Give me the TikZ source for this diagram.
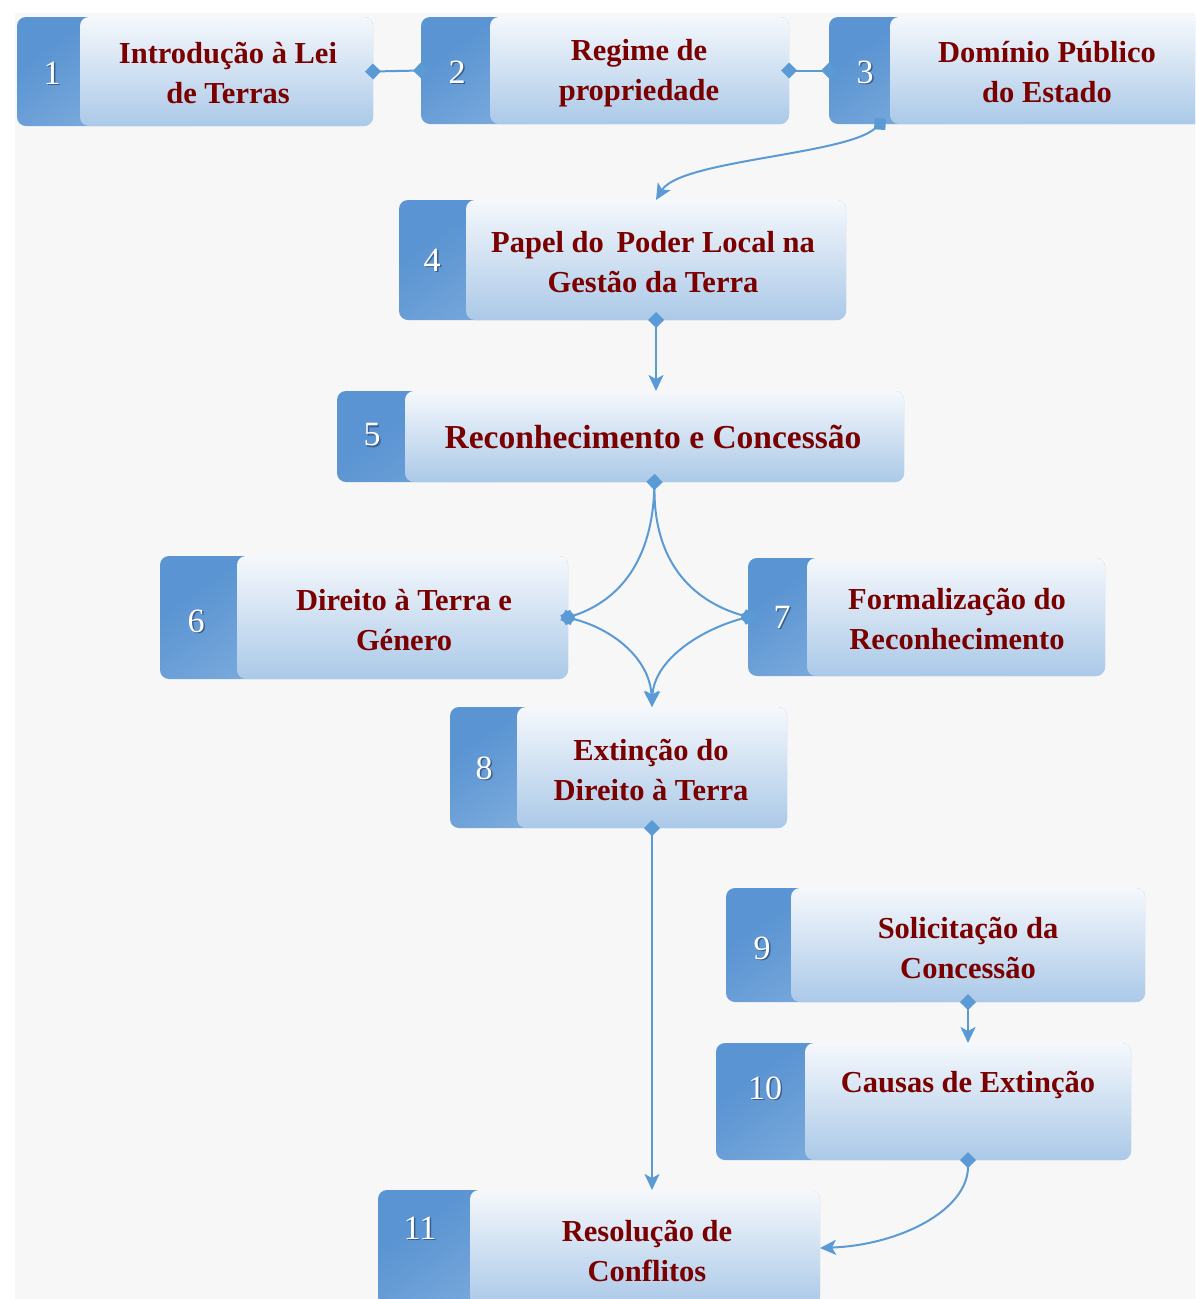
\documentclass[tikz,border=0pt]{standalone}
\usepackage{fontspec}
\setmainfont{Liberation Serif}
\usetikzlibrary{arrows.meta,calc}
\definecolor{bggray}{HTML}{F7F7F7}
\definecolor{tabA}{HTML}{5A94D2}
\definecolor{tabB}{HTML}{A6C7E9}
\definecolor{panA}{HTML}{F5F8FC}
\definecolor{panB}{HTML}{ABC9E8}
\definecolor{lblred}{HTML}{7A0000}
\definecolor{linkblue}{HTML}{5B9BD5}
\definecolor{numshade}{HTML}{3D5E8C}
\tikzset{
  tab/.style={rounded corners=9, top color=tabA, bottom color=tabB, shading angle=35, draw=none, inner sep=0, outer sep=0},
  panel/.style={rounded corners=9, top color=panA, bottom color=panB, draw=none, inner sep=0, outer sep=0},
  lbl/.style={font=\bfseries\fontsize{30.5}{40}\selectfont, text=lblred, align=center, inner sep=0},
  lblbig/.style={lbl, font=\bfseries\fontsize{33.5}{40}\selectfont},
  num/.style={font=\fontsize{34}{34}\selectfont, text=white, inner sep=0},
  numsh/.style={font=\fontsize{34}{34}\selectfont, text=numshade, inner sep=0},
  link/.style={draw=linkblue, line width=2},
  dia/.style={{Diamond[length=16,width=16]}-{Diamond[length=16,width=16]}, shorten <=-8, shorten >=-8},
  diarr/.style={{Diamond[length=16,width=16]}-{Stealth[length=16,width=15,inset=4]}, shorten <=-8},
}
\newcommand\mkbox[6]{%
  \node[tab, anchor=north west, minimum width={#4-#2}, minimum height={#5-#3}] (#1) at (#2,#3) {};
  \node[panel, anchor=north west, minimum width={#4-#6}, minimum height={#5-#3}] (#1p) at (#6,#3) {};
}
\newcommand\mknum[4]{%
  \node[numsh] (#1s) at ({#2+1.5},{#3+1.5}) {#4};
  \node[num] (#1n) at (#2,#3) {#4};
}
\begin{document}
\begin{tikzpicture}[x=1pt,y=-1pt]
\useasboundingbox (0,0) rectangle (1195,1299);
\clip (0,0) rectangle (1195,1299);
\fill[white] (0,0) rectangle (1195,1299);
\fill[bggray] (15,13) rectangle (1195,1299);

\mkbox{b1}{17}{17}{373}{126}{80}
\mkbox{b2}{421}{17}{789}{124}{490}
\mkbox{b3}{829}{17}{1215}{124}{890}
\mkbox{b4}{399}{200}{846}{320}{466}
\mkbox{b5}{337}{391}{904}{482}{405}
\mkbox{b6}{160}{556}{568}{679}{237}
\mkbox{b7}{748}{558}{1105}{676}{807}
\mkbox{b8}{450}{707}{787}{828}{517}
\mkbox{b9}{726}{888}{1145}{1002}{791}
\mkbox{b10}{716}{1043}{1131}{1160}{805}
\mkbox{b11}{378}{1190}{820}{1306}{470}

\mknum{b1}{52}{73}{1}
\mknum{b2}{457}{72}{2}
\mknum{b3}{865}{72}{3}
\mknum{b4}{432}{260}{4}
\mknum{b5}{372}{435}{5}
\mknum{b6}{196}{621}{6}
\mknum{b7}{782}{617}{7}
\mknum{b8}{484}{768}{8}
\mknum{b9}{762}{948}{9}
\mknum{b10}{765}{1088}{10}
\mknum{b11}{420}{1228}{11}

\node[lbl] (t1) at (228,73) {Introdução à Lei\\de Terras};
\node[lbl] (t2) at (639,73) {Regime de\\propriedade};
\node[lbl] (t3) at (1047,72) {Domínio Público\\do Estado};
\node[lbl] (t4) at (653,262) {Papel do\, Poder Local na\\Gestão da Terra};
\node[lblbig] (t5) at (653,437) {Reconhecimento e Concessão};
\node[lbl] (t6) at (404,620) {Direito à Terra e\\Género};
\node[lbl] (t7) at (957,619) {Formalização do\\Reconhecimento};
\node[lbl] (t8) at (651,770) {Extinção do\\Direito à Terra};
\node[lbl] (t9) at (968,948) {Solicitação da\\Concessão};
\node[lbl] (t10) at (968,1085) {Causas de Extinção};
\node[lbl] (t11) at (647,1251) {Resolução de\\Conflitos};

\draw[link, dia] (b1.east) -- (b2.west);
\draw[link, dia] (b2.east) -- (b3.west);
\coordinate (c3) at ($(b3.south west)+(51,0)$);
\draw[link, diarr] (c3) .. controls (845,155) and (680,160) .. (b4p.north);
\draw[link, diarr] (b4p.south) -- (b4p.south |- b5.north);
\draw[link, dia] (b5p.south) .. controls (652,560) and (620,600) .. (b6.east);
\draw[link, dia] (b5p.south) .. controls (654,560) and (690,600) .. (b7.west);
\draw[link, diarr] (b6.east) .. controls (615,630) and (650,660) .. (b8p.north);
\draw[link, diarr] (b7.west) .. controls (700,630) and (654,660) .. (b8p.north);
\draw[link, diarr] (b8p.south) -- (b8p.south |- b11.north);
\draw[link, diarr] (b9p.south) -- (b9p.south |- b10.north);
\draw[link, diarr] (b10p.south) .. controls (968,1210) and (900,1245) .. (b11.east);
\end{tikzpicture}
\end{document}
